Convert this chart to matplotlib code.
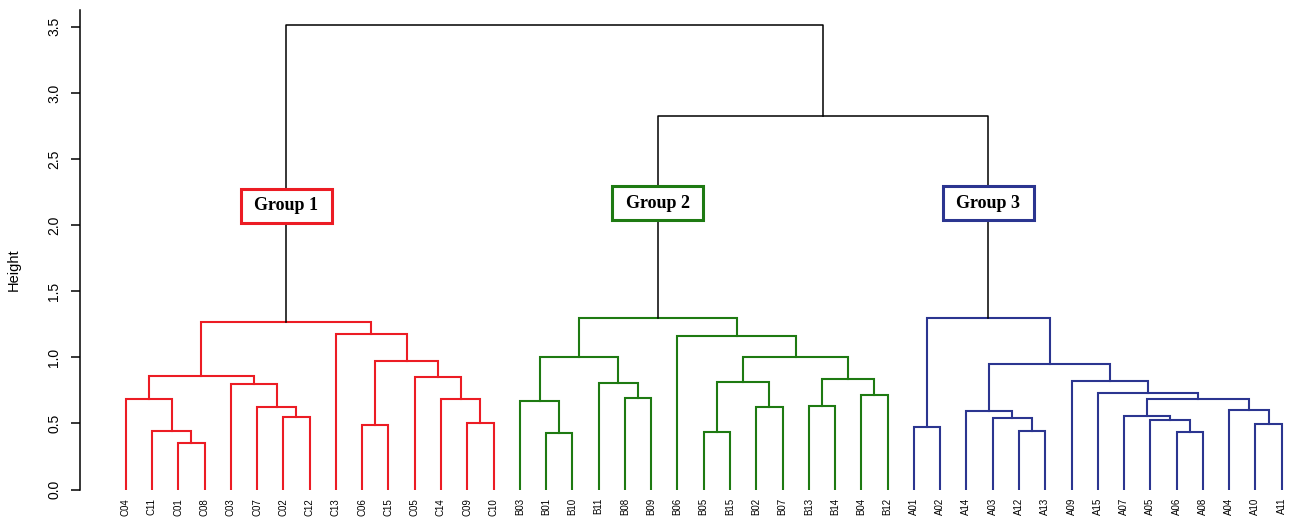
import matplotlib
matplotlib.use("Agg")
import matplotlib.pyplot as plt
from matplotlib.patches import Rectangle

# cluster trees: (left, right, merge height), leaves are sample names
red_tree = (
    (("C04", ("C11", ("C01", "C08", 0.349), 0.445), 0.685),
     ("C03", ("C07", ("C02", "C12", 0.546), 0.626), 0.796), 0.856),
    ("C13", (("C06", "C15", 0.490),
             ("C05", ("C14", ("C09", "C10", 0.505), 0.687), 0.849), 0.972), 1.176),
    1.265)

green_tree = (
    (("B03", ("B01", "B10", 0.430), 0.669),
     ("B11", ("B08", "B09", 0.690), 0.803), 1.000),
    ("B06", ((("B05", "B15", 0.437), ("B02", "B07", 0.622), 0.811),
             (("B13", "B14", 0.634), ("B04", "B12", 0.717), 0.833), 1.005), 1.161),
    1.300)

blue_tree = (
    ("A01", "A02", 0.475),
    (("A14", ("A03", ("A12", "A13", 0.445), 0.538), 0.594),
     ("A09", ("A15", (("A07", ("A05", ("A06", "A08", 0.435), 0.526), 0.558),
                      ("A04", ("A10", "A11", 0.495), 0.601), 0.687), 0.732), 0.821), 0.949),
    1.300)

group_names = ["Group 1", "Group 2", "Group 3"]
group_colors = ["#EC1C24", "#1E7A12", "#2B3590"]
group_label_heights = [2.148, 2.165, 2.165]
merge_23 = 2.823
merge_top = 3.513
yticks = [0.0, 0.5, 1.0, 1.5, 2.0, 2.5, 3.0, 3.5]


def leaves(node):
    if isinstance(node, str):
        return [node]
    return leaves(node[0]) + leaves(node[1])


trees = [red_tree, green_tree, blue_tree]
order = []
for t in trees:
    order += leaves(t)
pos = {name: i for i, name in enumerate(order)}

fig = plt.figure(figsize=(12.91, 5.2), dpi=100)
ax = fig.add_axes([80 / 1291, 30.5 / 520, 1 - 80 / 1291, 479.9 / 520])


def draw(node, color, lw):
    if isinstance(node, str):
        return pos[node], 0.0
    left, right, h = node
    xl, hl = draw(left, color, lw)
    xr, hr = draw(right, color, lw)
    ax.plot([xl, xl, xr, xr], [hl, h, h, hr], color=color, lw=lw,
            solid_joinstyle="miter", zorder=2)
    return (xl + xr) / 2, h


tops = [draw(t, c, 1.5) for t, c in zip(trees, group_colors)]

# black upper branches
(x1, h1), (x2, h2), (x3, h3) = tops
x23 = (x2 + x3) / 2
ax.plot([x2, x2, x3, x3], [h2, merge_23, merge_23, h3], color="black", lw=1.1, zorder=2)
ax.plot([x1, x1, x23, x23], [h1, merge_top, merge_top, merge_23], color="black", lw=1.1, zorder=2)

# group boxes
bw, bh = 91 / 26.27, 34 / 132.2
for (x, _), name, c, hy in zip(tops, group_names, group_colors, group_label_heights):
    ax.add_patch(Rectangle((x - bw / 2, hy - bh / 2), bw, bh, facecolor="white",
                           edgecolor=c, lw=2.2, zorder=3))
    ax.text(x, hy, name, ha="center", va="center", fontsize=13, fontweight="bold",
            family="Liberation Serif", zorder=4)

ax.set_xlim(-1.74, 44.354)
ax.set_ylim(0, 3.63)
ax.set_xticks(range(len(order)))
ax.set_xticklabels(order, rotation=90, fontsize=7, family="Liberation Sans", va="top")
ax.tick_params(axis="x", length=0, pad=6)
ax.set_yticks(yticks)
ax.set_yticklabels([f"{v:.1f}" for v in yticks], rotation=90, va="center",
                   fontsize=10, family="Liberation Sans")
ax.tick_params(axis="y", length=6.5, width=1.1, pad=7)
for s in ["top", "right", "bottom"]:
    ax.spines[s].set_visible(False)
ax.spines["left"].set_linewidth(1.1)

fig.text(14 / 1291, 1 - 270 / 520, "Height", rotation=90, ha="center", va="center",
         fontsize=10.5, family="Liberation Sans")

fig.savefig("out.png", dpi=100)
